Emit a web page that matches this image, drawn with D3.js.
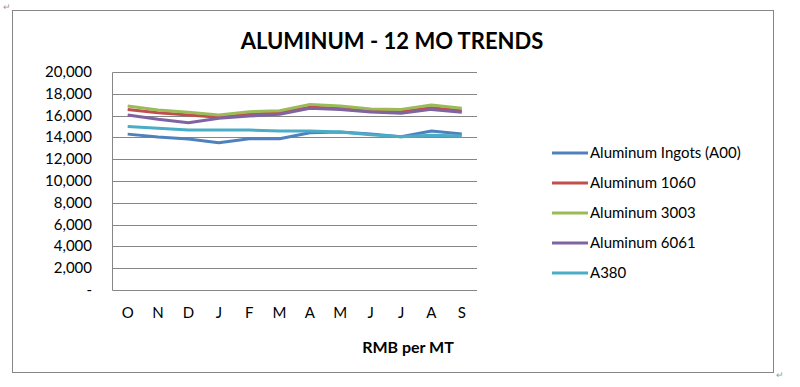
<!DOCTYPE html>
<html>
<head>
<meta charset="utf-8">
<script src="https://cdn.jsdelivr.net/npm/d3@7"></script>
<style>
body { margin: 0; background: #fff; }
text { font-family: Lato, "Open Sans", sans-serif; fill: #000; }
</style>
</head>
<body>
<script>
const months = ["O", "N", "D", "J", "F", "M", "A", "M", "J", "J", "A", "S"];
const seriesNames = ["Aluminum Ingots (A00)", "Aluminum 1060", "Aluminum 3003", "Aluminum 6061", "A380"];
const ingots = [14300, 14040, 13850, 13510, 13880, 13880, 14430, 14500, 14310, 14060, 14590, 14310];
const al1060 = [16570, 16270, 16060, 15840, 16120, 16270, 16760, 16670, 16420, 16360, 16730, 16450];
const al3003 = [16880, 16510, 16300, 16060, 16360, 16450, 17030, 16880, 16610, 16570, 16970, 16670];
const al6061 = [16060, 15660, 15350, 15750, 15960, 16120, 16670, 16570, 16330, 16210, 16570, 16300];
const a380 = [14990, 14830, 14680, 14680, 14680, 14590, 14590, 14500, 14250, 14060, 14190, 14130];
const yTicks = [0, 2000, 4000, 6000, 8000, 10000, 12000, 14000, 16000, 18000, 20000];
const colors = ["#4F81BD", "#C0504D", "#9BBB59", "#8064A2", "#4BACC6"];

const allSeries = [ingots, al1060, al3003, al6061, a380];
const W = 800, H = 387;

const svg = d3.select(document.body).append("svg")
  .attr("width", W).attr("height", H);

// outer chart frame
svg.append("rect")
  .attr("x", 12.5).attr("y", 10.5)
  .attr("width", 761).attr("height", 362)
  .attr("fill", "none").attr("stroke", "#868686").attr("stroke-width", 1);

svg.append("text")
  .attr("x", 392).attr("y", 49)
  .attr("text-anchor", "middle")
  .style("font-size", "22px").style("font-weight", "bold")
  .text("ALUMINUM - 12 MO TRENDS");

const x = d3.scaleBand().domain(d3.range(months.length)).range([112.5, 477]);
const y = d3.scaleLinear().domain([0, 20000]).range([290, 72]);

// gridlines
svg.append("g").selectAll("line").data(yTicks).join("line")
  .attr("x1", 112.5).attr("x2", 477)
  .attr("y1", d => Math.round(y(d)) + 0.5).attr("y2", d => Math.round(y(d)) + 0.5)
  .attr("stroke", "#868686");

// vertical axis
svg.append("line")
  .attr("x1", 112.5).attr("x2", 112.5)
  .attr("y1", Math.round(y(20000)) + 0.5).attr("y2", Math.round(y(0)) + 0.5)
  .attr("stroke", "#868686");

const fmt = d3.format(",");
svg.append("g").selectAll("text").data(yTicks).join("text")
  .attr("x", 92).attr("y", d => y(d) + 5)
  .attr("text-anchor", "end")
  .style("font-size", "15px")
  .text(d => d === 0 ? "-  " : fmt(d));

svg.append("g").selectAll("text").data(months).join("text")
  .attr("x", (d, i) => x(i) + x.bandwidth() / 2).attr("y", 318)
  .attr("text-anchor", "middle")
  .style("font-size", "15px")
  .text(d => d);

svg.append("text")
  .attr("x", 408).attr("y", 353)
  .attr("text-anchor", "middle")
  .style("font-size", "16px").style("font-weight", "bold")
  .text("RMB per MT");

const line = d3.line()
  .x((d, i) => x(i) + x.bandwidth() / 2)
  .y(d => y(d));

svg.append("g").selectAll("path").data(allSeries).join("path")
  .attr("d", line)
  .attr("fill", "none")
  .attr("stroke", (d, i) => colors[i])
  .attr("stroke-width", 3)
  .attr("stroke-linejoin", "round");

// legend
const leg = svg.append("g").selectAll("g").data(seriesNames).join("g")
  .attr("transform", (d, i) => `translate(552, ${153 + i * 30})`);
leg.append("line")
  .attr("x1", 0).attr("x2", 36).attr("y1", 0).attr("y2", 0)
  .attr("stroke", (d, i) => colors[i]).attr("stroke-width", 3);
leg.append("text")
  .attr("x", 38).attr("y", 5)
  .style("font-size", "15px")
  .text(d => d);

// word paragraph marks
svg.append("text").attr("x", 3).attr("y", 10)
  .style("font-size", "9px").style("fill", "#999").text("\u21B5");
svg.append("text").attr("x", 776).attr("y", 378)
  .style("font-size", "9px").style("fill", "#999").text("\u21B5");
</script>
</body>
</html>
